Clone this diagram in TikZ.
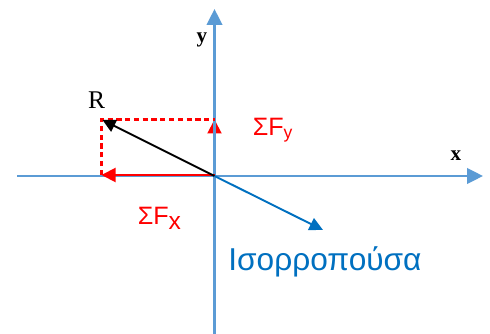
\documentclass[tikz,border=0pt]{standalone}
\usepackage{fontspec}
\setmainfont{Liberation Serif}
\newfontfamily\arialfont{Liberation Sans}
\usetikzlibrary{arrows.meta}
\definecolor{diagramAxis}{HTML}{5B9BD5}
\definecolor{diagramForce}{HTML}{FF0000}
\definecolor{diagramResult}{HTML}{0070C0}
\definecolor{diagramR}{HTML}{000000}

\begin{document}
\begin{tikzpicture}[
    x=1cm,y=1cm,
    every node/.style={inner sep=0pt},
    axis/.style={-{Triangle[length=3.2mm,width=3.1mm]},draw=diagramAxis,line width=1.5pt},
    force/.style={-{Triangle[length=2.8mm,width=2.8mm]},color=diagramForce,line width=1.1pt},
    dashguide/.style={draw=diagramForce,line width=1.2pt,dash pattern=on 3pt off 2pt},
    resultant/.style={-{Triangle[length=2.6mm,width=2.6mm]},color=diagramR,line width=1.1pt},
    balance/.style={-{Triangle[length=2.7mm,width=2.6mm]},color=diagramResult,line width=1.1pt},
    axislabel/.style={font=\bfseries\fontsize{12}{14}\selectfont},
    forcelabel/.style={text=diagramForce,font=\arialfont\fontsize{14.3}{16}\selectfont,anchor=base west}
]
\useasboundingbox (-4.29,-3.16) rectangle (5.51,3.52);
\coordinate (origin) at (0,0);
\coordinate (xstart) at (-3.94,0);
\coordinate (xend) at (5.37,0);
\coordinate (ystart) at (0,-3.16);
\coordinate (yend) at (0,3.34);
\coordinate (corner) at (-2.26,1.13);
\coordinate (fxbase) at (0,0.02);
\coordinate (fxtip) at (-2.26,0.02);
\coordinate (fytip) at (0,1.13);
\coordinate (rtip) at (-2.24,1.12);
\coordinate (btip) at (2.17,-1.08);

\draw[force] (origin) -- (fytip);
\draw[axis] (xstart) -- (xend);
\draw[axis] (ystart) -- (yend);
\node[axislabel] (xlabel) at (4.83,0.40) {x};
\node[axislabel] (ylabel) at (-0.25,2.72) {y};

\draw[force] (fxbase) -- (fxtip);
\draw[dashguide] (fxtip) -- (corner) -- (fytip);
\draw[resultant] (origin) -- (rtip);
\draw[balance] (origin) -- (btip);

\node[font=\fontsize{14.5}{16}\selectfont] (rlabel) at (-2.36,1.52) {R};
\node[forcelabel] (fylabel) at (0.76,0.80) {ΣF\raisebox{-0.05cm}{\fontsize{10}{12}\selectfont y}};
\node[forcelabel] (fxlabel) at (-1.54,-0.98) {ΣF\raisebox{-0.1cm}{\fontsize{14}{16}\selectfont x}};
\node[text=diagramResult,font=\arialfont\fontsize{18}{21}\selectfont,anchor=base west] (blabel) at (0.27,-1.88) {Ισορροπούσα};
\end{tikzpicture}
\end{document}
